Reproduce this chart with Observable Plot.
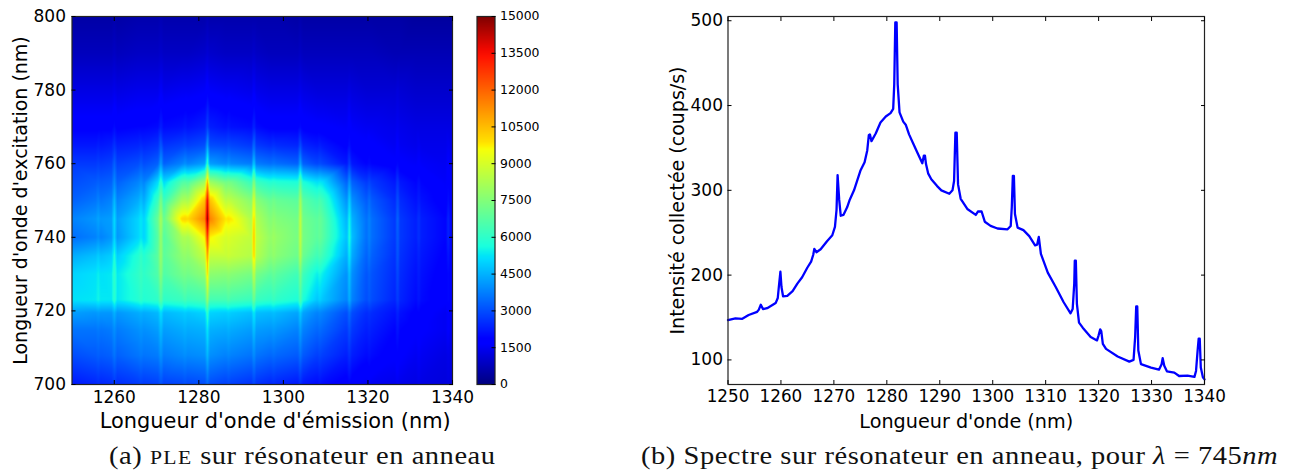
<!DOCTYPE html>
<html><head><meta charset="utf-8">
<script src="https://cdn.jsdelivr.net/npm/d3@7"></script>
<script src="https://cdn.jsdelivr.net/npm/@observablehq/plot@0.6"></script>
<style>
html,body{margin:0;padding:0;background:#fff}
#page{position:relative;width:1290px;height:472px;overflow:hidden}
#page svg{position:absolute;top:0;background:transparent;max-width:none;overflow:visible}
#page svg text{font-family:"DejaVu Sans",sans-serif;fill:#000}
.cap{position:absolute;top:441px;font-family:"Liberation Serif",serif;font-size:25px;color:#111;white-space:nowrap;line-height:30px;letter-spacing:.47px;transform:scaleX(1.14);transform-origin:0 50%}
.cap i{font-style:italic}
.sc{font-size:19px;letter-spacing:1.2px}
</style></head><body><div id="page"></div>
<script>
// Emission wavelengths (nm) of the heat map columns
const emission = [1250, 1255.6,1256.2,1256.8, 1259.3,1260,1260.7, 1265.6,1266.3,1267, 1270.3,1271,1271.7, 1276,1276.7,1277.4, 1281.4,1282,1282.6, 1286.4,1287,1287.6, 1292.4,1293,1293.6, 1297,1297.7,1298.4, 1303.4,1304,1304.6, 1308,1308.6,1309.2, 1315,1315.6,1316.2, 1319.7,1320.3,1320.9, 1326.4,1327,1327.6, 1331.4,1332,1332.6, 1338.4,1339,1339.6, 1340];
// Excitation wavelengths (nm) of the heat map rows
const excitation = [700,708,715,719.5,723,730,735,740,745,750,755,760,765,770,780,790,800];
// Counts / 100, one row per excitation wavelength
const pleRows = [
[22, 24,25,24, 25,27,25, 27,28,27, 28,31,28, 29,30,29, 30,34,30, 28,29,28, 26,29,26, 24,25,24, 22,25,22, 20,21,20, 17,19,17, 15,16,15, 14,15,14, 13,14,13, 12,13,12, 12],
[30, 32,33,32, 33,36,33, 36,37,36, 37,41,37, 39,40,39, 40,46,40, 38,39,38, 36,40,36, 34,35,34, 32,36,32, 28,29,28, 23,26,23, 20,21,20, 17,19,17, 15,16,15, 13,14,13, 13],
[36, 36,37,36, 37,40,37, 40,41,40, 42,47,42, 44,45,44, 45,53,45, 44,45,44, 42,48,42, 41,42,41, 38,43,38, 34,35,34, 27,31,27, 23,24,23, 19,22,19, 17,18,17, 15,17,15, 14],
[42, 41,42,41, 41,45,41, 44,45,44, 46,52,46, 48,49,48, 50,60,50, 49,50,49, 47,54,47, 46,47,46, 43,49,43, 38,39,38, 30,35,30, 25,26,25, 21,24,21, 18,19,18, 15,17,15, 15],
[52, 53,55,53, 53,59,53, 58,60,58, 60,68,60, 62,64,62, 64,78,64, 64,66,64, 62,72,62, 60,62,60, 57,66,57, 48,50,48, 38,45,38, 30,32,30, 24,28,24, 20,22,20, 17,20,17, 16],
[50, 52,54,52, 53,60,53, 60,62,60, 66,76,66, 72,73,72, 77,98,77, 76,77,76, 73,87,73, 68,70,68, 63,73,63, 54,56,54, 40,48,40, 31,33,31, 25,30,25, 21,23,21, 17,20,17, 17],
[44, 47,49,47, 49,57,49, 58,61,58, 68,79,68, 77,78,77, 87,109,87, 87,88,87, 84,102,84, 76,78,76, 71,84,71, 63,65,63, 44,54,44, 33,36,33, 26,32,26, 22,24,22, 18,22,18, 18],
[35, 38,40,38, 41,50,41, 50,53,50, 67,79,67, 82,83,82, 97,127,97, 90,91,90, 86,104,86, 78,80,78, 73,87,73, 68,70,68, 47,58,47, 35,38,35, 27,33,27, 23,26,23, 19,24,19, 19],
[38, 41,43,41, 42,51,42, 50,53,50, 70,82,70, 100,101,100, 115,148,115, 98,99,98, 83,101,83, 75,77,75, 72,87,72, 68,70,68, 45,56,45, 35,38,35, 27,34,27, 23,26,23, 19,24,19, 19],
[33, 36,38,36, 38,46,38, 44,47,44, 62,74,62, 82,83,82, 104,136,104, 85,86,85, 76,92,76, 70,72,70, 68,82,68, 63,65,63, 40,50,40, 32,35,32, 25,31,25, 21,23,21, 17,21,17, 17],
[30, 32,33,32, 33,39,33, 38,40,38, 51,60,51, 66,67,66, 80,106,80, 72,73,72, 62,76,62, 58,59,58, 57,69,57, 52,53,52, 33,41,33, 27,29,27, 22,27,22, 19,21,19, 16,19,16, 15],
[27, 27,28,27, 28,33,28, 30,32,30, 33,42,33, 38,40,38, 42,60,42, 39,41,39, 37,49,37, 35,36,35, 33,43,33, 29,30,29, 22,28,22, 19,20,19, 17,20,17, 16,17,16, 15,17,15, 15],
[22, 22,23,22, 23,26,23, 24,25,24, 26,32,26, 28,29,28, 30,42,30, 29,30,29, 27,35,27, 25,26,25, 24,30,24, 22,23,22, 18,21,18, 17,18,17, 15,17,15, 14,15,14, 14,15,14, 14],
[18, 18,18,18, 18,20,18, 19,19,19, 20,23,20, 21,22,21, 23,28,23, 21,22,21, 20,24,20, 18,18,18, 18,20,18, 17,17,17, 16,18,16, 15,15,15, 14,15,14, 13,13,13, 13,13,13, 13],
[13, 13,13,13, 13,14,13, 14,14,14, 14,16,14, 15,15,15, 16,18,16, 15,15,15, 14,16,14, 13,13,13, 13,14,13, 12,12,12, 12,13,12, 11,11,11, 11,12,11, 10,10,10, 10,10,10, 10],
[8, 8,8,8, 8,9,8, 9,9,9, 9,10,9, 9,9,9, 10,11,10, 9,9,9, 9,10,9, 8,8,8, 8,9,8, 8,8,8, 8,8,8, 8,8,8, 7,7,7, 7,7,7, 7,7,7, 7],
[5, 5,5,5, 5,6,5, 6,6,6, 6,7,6, 6,6,6, 6,7,6, 6,6,6, 6,6,6, 6,6,6, 5,6,5, 5,5,5, 5,5,5, 5,5,5, 5,5,5, 4,4,4, 4,4,4, 4]
];
// Spectrum at 745 nm excitation
const spectrumNm = [1250,1251.4,1252.7,1253.9,1255.5,1255.8,1256.2,1256.6,1257.4,1259,1259.4,1259.6,1259.9,1260.1,1260.4,1261.2,1262.2,1263.1,1264,1265,1265.7,1266.1,1266.3,1266.7,1267.5,1268.7,1269.7,1270.2,1270.5,1270.7,1271,1271.3,1271.8,1272.5,1273,1273.8,1275,1275.8,1276.3,1276.6,1276.8,1277.1,1277.9,1278.8,1279.8,1280.7,1281.2,1281.4,1281.6,1281.85,1282.05,1282.4,1283.1,1283.6,1284.2,1285,1285.8,1286.7,1287,1287.2,1287.4,1287.8,1288.4,1289.5,1290.3,1291.8,1292.4,1292.7,1292.95,1293.2,1293.45,1293.95,1295.2,1296.8,1297.2,1297.9,1298.5,1299.6,1300.9,1302.8,1303.4,1303.6,1303.8,1304,1304.2,1304.7,1305.8,1306.9,1308,1308.4,1308.7,1309.1,1310.4,1311.9,1313.4,1314.7,1315.1,1315.4,1315.5,1315.7,1315.9,1316.3,1317,1318.5,1319.7,1320,1320.3,1320.5,1320.8,1321.4,1323.6,1325.8,1326.6,1326.9,1327.1,1327.3,1327.5,1328,1329.9,1331.4,1331.9,1332.1,1332.4,1332.9,1334.3,1335.2,1336.8,1338.1,1338.4,1338.7,1338.9,1339.1,1339.3,1339.7,1340];
const spectrumCounts = [147,149,148.5,153,156.7,159,165,160,161,167,173,186,204,186,175,175.5,181,190,197.5,209,216,224,231,227,230.5,240,247,257,277,318,289,270,271,280,289,300,323,333,347,365,366,358,367,380,387,391,396,425,498,498,425,392,381,377,366,355,344,332,341,341,331,320,313,305,300,296,300,311,368,368,307,290,278,271,275,275,263,258,255,254,258,280,317,317,272,256,253,246,235,236,245,225,203,186,168,155,160,190,217,217,166,144,138,127,123,129,136,134,119,113,104,98,100,127,163,163,111,95,91,88.5,95,102,93,86.5,85,81,81.5,80,87,111,125,125,91,79.5,77];
const xTicksA = [1260,1280,1300,1320,1340];
const yTicksA = [700,720,740,760,780,800];
const barTicks = d3.range(0,15001,1500);
const xTicksB = [1250,1260,1270,1280,1290,1300,1310,1320,1330,1340];
const yTicksB = [100,200,300,400,500];
// Jet colour map
const jetAt = [0,.11,.125,.34,.35,.375,.64,.65,.66,.89,.91,1];
const jetColors = ["#00007f","#0000ff","#0000ff","#00dbff","#00e5f7","#19ffde","#f7ff08","#ffee00","#ffe000","#ff1300","#f10800","#7f0000"];
const colorOpt = {type:"linear",domain:jetAt.map(d=>d*15000),range:jetColors,interpolate:"rgb",clamp:true};

const table = [];
excitation.forEach((y,i)=>emission.forEach((x,j)=>table.push({x,y,v:pleRows[i][j]*100})));
const page = document.getElementById("page");
function place(svg,left,xLabelSize,yLabelSize,xLabelShift){
  svg.style.left=left+"px";
  const xl=svg.querySelector('[aria-label="x-axis label"]'), yl=svg.querySelector('[aria-label="y-axis label"]');
  if(xl){xl.style.fontSize=xLabelSize+"px"; if(xLabelShift) xl.style.translate=xLabelShift+"px 0";}
  if(yl) yl.style.fontSize=yLabelSize+"px";
  page.appendChild(svg);
}

place(Plot.plot({
  width:480,height:440,marginLeft:71.5,marginRight:28,marginTop:16,marginBottom:56,
  style:"font-size:17px;color:#000;background:transparent",
  x:{domain:[1250,1340],axis:null},y:{domain:[700,800],axis:null},color:colorOpt,
  marks:[
    Plot.raster(table,{x:"x",y:"y",fill:"v",interpolate:"barycentric",pixelSize:1}),
    Plot.frame({stroke:"#222",strokeWidth:1.2}),
    Plot.axisX(xTicksA,{anchor:"bottom",tickSize:-4,tickPadding:10,label:"Longueur d'onde d'émission (nm)",labelAnchor:"center",labelOffset:43,labelArrow:"none",tickFormat:d=>String(d)}),
    Plot.axisX(xTicksA,{anchor:"top",tickSize:-4,tickFormat:()=>"",label:null}),
    Plot.axisY(yTicksA,{anchor:"left",tickSize:-4,tickPadding:10,label:"Longueur d'onde d'excitation (nm)",labelAnchor:"center",labelOffset:59,labelArrow:"none",tickFormat:d=>String(d)}),
    Plot.axisY(yTicksA,{anchor:"right",tickSize:-4,tickFormat:()=>"",label:null})
  ]
}),0,20.9,19,13);

place(Plot.plot({
  width:80,height:400,marginLeft:6.5,marginRight:55.5,marginTop:16,marginBottom:16,
  style:"font-size:12.4px;color:#000;background:transparent",
  x:{domain:[0,1],axis:null},y:{domain:[0,15000],axis:null},color:colorOpt,
  marks:[
    Plot.raster({fill:(x,y)=>y,x1:0,x2:1,y1:0,y2:15000,pixelSize:1}),
    Plot.frame({stroke:"#222",strokeWidth:1.2}),
    Plot.axisY(barTicks,{anchor:"right",tickSize:-4,tickPadding:9,label:null,tickFormat:d=>String(d)})
  ]
}),470);

place(Plot.plot({
  width:640,height:440,marginLeft:77.5,marginRight:86,marginTop:16,marginBottom:56,
  style:"font-size:17px;color:#000;background:transparent",
  x:{domain:[1250,1340],axis:null},y:{domain:[71,505],axis:null},
  marks:[
    Plot.line(spectrumNm.map((x,i)=>({x,y:spectrumCounts[i]})),{x:"x",y:"y",stroke:"#0000ff",strokeWidth:2.3,curve:"linear",strokeLinejoin:"round"}),
    Plot.frame({stroke:"#222",strokeWidth:1.2}),
    Plot.axisX(xTicksB,{anchor:"bottom",tickSize:-4,tickPadding:10,label:"Longueur d'onde (nm)",labelAnchor:"center",labelOffset:43,labelArrow:"none",tickFormat:d=>String(d),fontSize:16.8}),
    Plot.axisX(xTicksB,{anchor:"top",tickSize:-4,tickFormat:()=>"",label:null}),
    Plot.axisY(yTicksB,{anchor:"left",tickSize:-4,tickPadding:9,label:"Intensité collectée (coups/s)",labelAnchor:"center",labelOffset:58,labelArrow:"none",tickFormat:d=>String(d)}),
    Plot.axisY(yTicksB,{anchor:"right",tickSize:-4,tickFormat:()=>"",label:null})
  ]
}),650,19.2,19);

const a=document.createElement("div");a.className="cap";a.style.left="109px";
a.innerHTML='(a) <span class="sc">PLE</span> sur résonateur en anneau';page.appendChild(a);
const b=document.createElement("div");b.className="cap";b.style.left="641px";
b.innerHTML='(b) Spectre sur résonateur en anneau, pour <i>λ</i> = 745<i>nm</i>';page.appendChild(b);
</script></body></html>
